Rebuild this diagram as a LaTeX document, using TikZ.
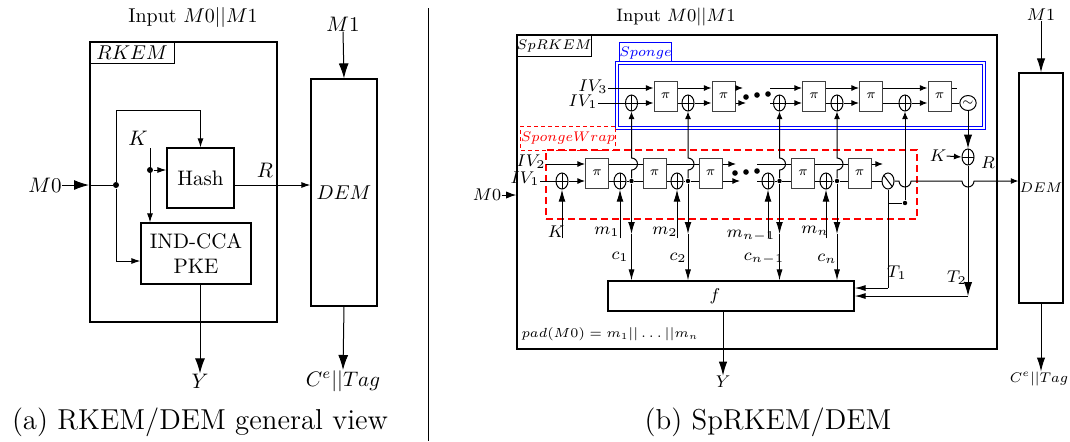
\RequirePackage{fix-cm}
\documentclass[tikz,border=0pt]{standalone}
\usetikzlibrary{arrows.meta,shapes.geometric}
\newcommand\fLa{\fontsize{10}{12}\selectfont}
\newcommand\fLb{\fontsize{10.5}{12.5}\selectfont}
\newcommand\fRi{\fontsize{9}{10}\selectfont}
\newcommand\fRl{\fontsize{8.5}{9.5}\selectfont}
\newcommand\fRs{\fontsize{7}{8}\selectfont}
\newcommand\fPad{\fontsize{6.6}{8}\selectfont}
\newcommand\fPi{\fontsize{6.5}{7}\selectfont}
\newcommand\fCap{\fontsize{14.4}{17}\selectfont}
\begin{document}
\begin{tikzpicture}[x=0.5pt,y=-0.5pt,line width=0.5pt,
  every node/.style={inner sep=0pt},
  bigA/.style={-{Latex[length=7.5pt,width=5pt]}},
  smA/.style={-{Latex[length=4.5pt,width=3pt]}},
  rA/.style={-{Latex[length=3.8pt,width=3pt]}},
  rmid/.style={-{Latex[length=6pt,width=3.4pt]}},
  rin/.style={-{Latex[length=5.5pt,width=3pt]}},
  rbig/.style={-{Latex[length=7pt,width=4.2pt]}},
  boxL/.style={draw,line width=0.6pt,font=\fLb},
  pibox/.style={draw=black!75,line width=0.5pt,minimum width=11.5pt,minimum height=15pt,font=\fPi},
  xorn/.style={draw,ellipse,minimum width=6pt,minimum height=8pt,fill=white,
    path picture={\draw (path picture bounding box.north) -- (path picture bounding box.south)
      (path picture bounding box.west) -- (path picture bounding box.east);}},
  slashn/.style={draw,ellipse,minimum width=6pt,minimum height=8pt,fill=white,
    path picture={\draw (path picture bounding box.north west) -- (path picture bounding box.south east);}},
  tiln/.style={draw,ellipse,minimum width=6pt,minimum height=7.5pt,fill=white},
  dotL/.style={circle,fill,minimum size=3pt},
  dotR/.style={circle,fill,minimum size=2.2pt},
  bdot/.style={circle,fill,minimum size=2.8pt}]
\useasboundingbox (0,0) rectangle (1070,441);

% ================= LEFT =================
\node[font=\fLa] (inL) at (193,17) {Input $M0||M1$};
\node[draw,line width=1pt,minimum width=93.5pt,minimum height=140pt] (rkem) at (183.5,182) {};
\node[draw,line width=0.6pt,anchor=north west,minimum width=42.5pt,minimum height=11pt,font=\fLa] (rkemlbl) at (rkem.north west) {$RKEM$};
\node[boxL,minimum width=33.5pt,minimum height=30pt] (hash) at (200.5,178) {Hash};
\node[boxL,minimum width=55pt,minimum height=30.5pt,align=center] (pke) at (196,253.5) {IND-CCA\\PKE};
\node[draw,line width=0.6pt,minimum width=33pt,minimum height=113.5pt,font=\fLa] (deml) at (344,192.5) {$DEM$};

\node[font=\fLb] (m1l) at (343,24) {$M1$};
\draw[bigA] (m1l.south) -- (deml.north);
\node[font=\fLb] (cel) at (343,381) {$C^e||Tag$};
\draw[bigA] (deml.south) -- (cel.north);
\node[font=\fLb] (yl) at (200,381) {$Y$};
\draw[bigA] (pke.south -| yl.north) -- (yl.north);

\node[font=\fLb] (m0l) at (45,185) {$M0$};
\node[dotL] (dl) at (116,185) {};
\draw[bigA] (m0l.east) -- (m0l.east -| rkem.west);
\draw (m0l.east -| rkem.west) -- (dl);
\coordinate (tl) at (116,110);
\draw[smA] (dl) -- (tl) -| (hash.north);
\coordinate (yp) at (0,261);
\draw[smA] (dl) |- (pke.west |- yp);
\node[font=\fLb] (kl) at (138,138) {$K$};
\coordinate (ks) at (150,148);
\node[dotL] (kd) at (150,170) {};
\draw[smA] (ks) -- (ks |- pke.north);
\draw[smA] (kd) -- (kd -| hash.west);
\draw[smA] (dl -| hash.east) -- (dl -| deml.west);
\node[font=\fLb] (rl) at (265,170) {$R$};

\node[font=\fCap] (capa) at (200,422) {(a) RKEM/DEM general view};

\coordinate (s1) at (428,8);
\coordinate (s2) at (428,441);
\draw (s1) -- (s2);

% ================= RIGHT =================
\node[font=\fRi] (inR) at (676,17) {Input $M0||M1$};
\node[draw,line width=0.8pt,minimum width=240pt,minimum height=157pt] (sp) at (757,192) {};
\node[draw,line width=0.6pt,anchor=north west,minimum width=37.5pt,minimum height=11pt,font=\fRs] (splbl) at (sp.north west) {$SpRKEM$};

\node[draw=blue,line width=0.5pt,minimum width=25.5pt,minimum height=11pt,font=\fRs,text=blue] (sglbl) at (645.5,53) {$Sponge$};
\node[draw=blue,double=white,double distance=0.8pt,line width=0.5pt,minimum width=183.5pt,minimum height=32.5pt] (sg) at (800.5,95.5) {};

\node[draw=red,dash pattern=on 2pt off 1.5pt,line width=0.5pt,minimum width=45pt,minimum height=12pt,font=\fRs,text=red] (swlbl) at (568,138) {$SpongeWrap$};
\node[draw=red,dash pattern=on 3.5pt off 2pt,line width=1.1pt,minimum width=185.5pt,minimum height=34.5pt] (sw) at (731.5,184.5) {};

\coordinate (uu) at (0,88);
\coordinate (ul) at (0,103);
\coordinate (lu) at (0,164);
\coordinate (ll) at (0,181);

% upper row (Sponge)
\node[pibox] (pu1) at (665.5,96) {$\pi$};
\node[pibox] (pu2) at (723.5,96) {$\pi$};
\node[pibox] (pu3) at (814,96) {$\pi$};
\node[pibox] (pu4) at (871,96) {$\pi$};
\node[pibox] (pu5) at (939.5,96) {$\pi$};
\node[xorn] (xu1) at (631.5,103) {};
\node[xorn] (xu2) at (688,103) {};
\node[xorn] (xu3) at (779.5,103) {};
\node[xorn] (xu4) at (837,103) {};
\node[xorn] (xu5) at (905,103) {};
\node[tiln] (til) at (968,103) {\fontsize{6}{6}\selectfont$\sim$};

\node[font=\fRl,anchor=east] (iv3) at (608,87) {$IV_3$};
\node[font=\fRl,anchor=east] (iv1u) at (598,102) {$IV_1$};
\draw[rA] (iv3.east |- uu) -- (pu1.west |- uu);
\draw (iv1u.east |- ul) -- (xu1.west);
\draw[rA] (xu1.east) -- (pu1.west |- ul);
\draw[rA] (pu1.east |- uu) -- (pu2.west |- uu);
\draw (pu1.east |- ul) -- (xu2.west);
\draw[rA] (xu2.east) -- (pu2.west |- ul);
\coordinate (eu2a) at (743,88);
\coordinate (eu2b) at (746,103);
\draw[rA] (pu2.east |- uu) -- (eu2a);
\draw[rA] (pu2.east |- ul) -- (eu2b);
\node[bdot] (du1) at (746,97) {};
\node[bdot] (du2) at (757,95) {};
\node[bdot] (du3) at (768,94) {};
\coordinate (su3a) at (770,88);
\coordinate (su3b) at (770,103);
\draw[rA] (su3a) -- (pu3.west |- uu);
\draw (su3b) -- (xu3.west);
\draw[rA] (xu3.east) -- (pu3.west |- ul);
\draw[rA] (pu3.east |- uu) -- (pu4.west |- uu);
\draw (pu3.east |- ul) -- (xu4.west);
\draw[rA] (xu4.east) -- (pu4.west |- ul);
\draw[rA] (pu4.east |- uu) -- (pu5.west |- uu);
\draw (pu4.east |- ul) -- (xu5.west);
\draw[rA] (xu5.east) -- (pu5.west |- ul);
\coordinate (stub) at (957,88);
\draw (pu5.east |- uu) -- (stub);
\draw (pu5.east |- ul) -- (til.west);

% lower row (SpongeWrap)
\node[pibox] (pl1) at (597,173) {$\pi$};
\node[pibox] (pl2) at (654.5,173) {$\pi$};
\node[pibox] (pl3) at (710.5,173) {$\pi$};
\node[pibox] (pl4) at (803,173) {$\pi$};
\node[pibox] (pl5) at (859.5,173) {$\pi$};
\node[xorn] (xa) at (562,181) {};
\node[xorn] (xb) at (620,181) {};
\node[xorn] (xc) at (677,181) {};
\node[xorn] (xd) at (768,181) {};
\node[xorn] (xe) at (826,181) {};
\node[dotR] (c1d) at (631.5,181) {};
\node[dotR] (c2d) at (688,181) {};
\node[dotR] (c3d) at (779.5,181) {};
\node[dotR] (c4d) at (837,181) {};
\node[slashn] (sl) at (888,181) {};

\node[font=\fRl,anchor=east] (iv2) at (546,162) {$IV_2$};
\node[font=\fRl,anchor=east] (iv1l) at (540,179) {$IV_1$};
\draw[rA] (iv2.east |- lu) -- (pl1.west |- lu);
\draw (iv1l.east |- ll) -- (xa.west);
\draw[rA] (xa.east) -- (pl1.west |- ll);
\draw (pl1.east |- lu) -- (pl2.west |- lu);
\draw (pl1.east |- ll) -- (xb.west);
\draw (xb.east) -- (c1d) -- (pl2.west |- ll);
\draw (pl2.east |- lu) -- (pl3.west |- lu);
\draw (pl2.east |- ll) -- (xc.west);
\draw (xc.east) -- (c2d) -- (pl3.west |- ll);
\coordinate (el3a) at (736,164);
\coordinate (el3b) at (740,181);
\draw[rA] (pl3.east |- lu) -- (el3a);
\draw[rA] (pl3.east |- ll) -- (el3b);
\node[bdot] (dl1) at (735,173) {};
\node[bdot] (dl2) at (746,172) {};
\node[bdot] (dl3) at (757,171) {};
\coordinate (sl4a) at (757,164);
\coordinate (sl4b) at (757,181);
\draw (sl4a) -- (pl4.west |- lu);
\draw (sl4b) -- (xd.west);
\draw (xd.east) -- (c3d) -- (pl4.west |- ll);
\draw (pl4.east |- lu) -- (pl5.west |- lu);
\draw (pl4.east |- ll) -- (xe.west);
\draw (xe.east) -- (c4d) -- (pl5.west |- ll);
\coordinate (el5) at (883,164);
\draw[rA] (pl5.east |- lu) -- (el5);
\draw (pl5.east |- ll) -- (sl.west);

% vertical feeds into the Sponge row, jumping the upper line
\draw[rA] (c1d) -- ++(0,-11) arc[start angle=90,end angle=-90,radius=6] -- (xu1.south);
\draw[rA] (c2d) -- ++(0,-11) arc[start angle=90,end angle=-90,radius=6] -- (xu2.south);
\draw[rA] (c3d) -- ++(0,-11) arc[start angle=90,end angle=-90,radius=6] -- (xu3.south);
\draw[rA] (c4d) -- ++(0,-11) arc[start angle=90,end angle=-90,radius=6] -- (xu4.south);
\node[dotR] (d5) at (905,203) {};
\draw (sl.south |- d5) -- (d5);
\draw[rA] (d5) -- (xu5.south);

% message inputs
\node[font=\fRl] (kk) at (556,232) {$K$};
\node[font=\fRl] (m1) at (607,232) {$m_1$};
\node[font=\fRl] (m2) at (665,232) {$m_2$};
\node[font=\fRl] (mn1) at (751,236) {$m_{n-1}$};
\node[font=\fRl] (mn) at (815,231) {$m_n$};
\draw[rmid] (xa.south |- kk.south) -- (xa.south);
\draw[rmid] (xb.south |- kk.south) -- (xb.south);
\draw[rmid] (xc.south |- kk.south) -- (xc.south);
\draw[rmid] (xd.south |- kk.south) -- (xd.south);
\draw[rmid] (xe.south |- kk.south) -- (xe.south);

% f box and ciphertext blocks
\node[draw,line width=0.6pt,minimum width=123pt,minimum height=15pt] (f) at (731,296) {};
\node[font=\fRl] (fl) at (715,296) {$f$};
\coordinate (c1m) at (631.5,234);
\coordinate (c2m) at (688,234);
\coordinate (c3m) at (779.5,234);
\coordinate (c4m) at (837,234);
\draw[rmid] (c1d) -- (c1m);
\draw[rmid] (c2d) -- (c2m);
\draw[rmid] (c3d) -- (c3m);
\draw[rmid] (c4d) -- (c4m);
\draw[rin] (c1m) -- (c1m |- f.north);
\draw[rin] (c2m) -- (c2m |- f.north);
\draw[rin] (c3m) -- (c3m |- f.north);
\draw[rin] (c4m) -- (c4m |- f.north);
\node[font=\fRl] (c1) at (620,257) {$c_1$};
\node[font=\fRl] (c2) at (678,258) {$c_2$};
\node[font=\fRl] (cn1) at (764,259) {$c_{n-1}$};
\node[font=\fRl] (cn) at (827,259) {$c_n$};

\node[font=\fRl] (yr) at (723,382) {$Y$};
\draw[rbig] (f.south -| yr.north) -- (yr.north);

% tags
\coordinate (t1c) at (888,288);
\draw (sl.south) -- (t1c);
\draw[rin] (t1c) -- (t1c -| f.east);
\node[font=\fRl] (t1) at (897,273) {$T_1$};
\node[xorn] (xk) at (968,157) {};
\node[font=\fRl] (kr) at (938,156) {$K$};
\draw[rA] (kr.east) -- (xk.west);
\draw[rbig] (til.south) -- (xk.north);
\coordinate (t2c) at (968,296);
\draw[rbig] (xk.south) -- (t2c);
\draw[rin] (t2c) -- (t2c -| f.east);
\node[font=\fRl] (t2) at (957,278) {$T_2$};

% DEM
\node[draw,line width=0.6pt,minimum width=22pt,minimum height=115pt,font=\fRs] (demr) at (1041,188) {$DEM$};
\node[font=\fRl] (rr) at (988,163) {$R$};
\coordinate (j1) at (899,181);
\coordinate (j2) at (962,181);
\draw[rA] (sl.east) -- (j1) arc[start angle=180,end angle=0,radius=6] -- (j2) arc[start angle=180,end angle=0,radius=6] -- (j2 -| demr.west);
\node[font=\fRl] (m1r) at (1041,15) {$M1$};
\draw[rbig] (m1r.south) -- (demr.north);
\node[font=\fRs] (cer) at (1039,379) {$C^e||Tag$};
\draw[rbig] (demr.south) -- (demr.south |- cer.north);
\node[font=\fRl] (m0r) at (487,195) {$M0$};
\draw[-{Latex[length=5pt,width=3.6pt]}] (m0r.east) -- (m0r.east -| sp.west);

\node[font=\fPad,anchor=west] (pad) at (521,334) {$pad(M0) = m_1||\ldots||m_n$};

\node[font=\fCap] (capb) at (768,422) {(b) SpRKEM/DEM};
\end{tikzpicture}
\end{document}
